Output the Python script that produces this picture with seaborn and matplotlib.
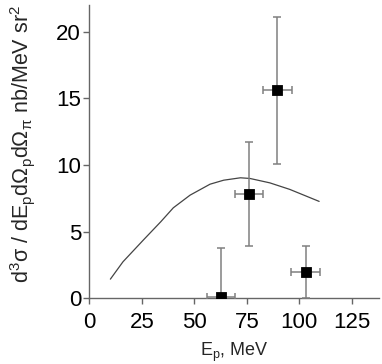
import numpy as np
import pandas as pd
import seaborn as sns
import matplotlib
matplotlib.use("Agg")
import matplotlib.pyplot as plt

# measured points
E_p = [62.9, 76.0, 89.5, 103.0]
xsec = [0.1, 7.8, 15.6, 2.0]
x_err = [6.7, 6.6, 6.9, 6.7]
y_err = [3.65, 3.9, 5.5, 1.95]

# model curve
E_curve = [10, 16, 26, 34, 40, 48, 57.5, 64, 72, 76.5, 86, 95.5, 109.5]
xsec_curve = [1.45, 2.75, 4.43, 5.75, 6.8, 7.75, 8.57, 8.87, 9.05, 9.0, 8.67, 8.18, 7.28]

sns.set_style("ticks")
plt.rcParams['font.family'] = ['Liberation Sans', 'DejaVu Sans']
plt.rcParams['mathtext.fontset'] = 'custom'
plt.rcParams['mathtext.rm'] = 'Liberation Sans'
plt.rcParams['mathtext.it'] = 'Liberation Sans'
plt.rcParams['mathtext.bf'] = 'Liberation Sans'

df = pd.DataFrame({"E": E_p, "s": xsec})
curve = pd.DataFrame({"E": E_curve, "s": xsec_curve})

fig = plt.figure(figsize=(3.82, 3.64), dpi=100)
ax = fig.add_axes([0.234, 0.18, 0.758, 0.806])

sns.lineplot(data=curve, x="E", y="s", ax=ax, color="#444444", lw=0.9)
ax.errorbar(E_p, xsec, xerr=x_err, yerr=y_err, fmt="none", ecolor="#808080",
            elinewidth=1.1, capsize=3, capthick=1.1, zorder=3)
sns.scatterplot(data=df, x="E", y="s", ax=ax, marker="s", s=55, color="black",
                edgecolor="black", zorder=4)

ax.set_xlim(0, 138)
ax.set_ylim(0, 22)
ax.set_xticks([0, 25, 50, 75, 100, 125])
ax.set_yticks([0, 5, 10, 15, 20])
for s in ["left", "bottom"]:
    ax.spines[s].set_color("#666666")
    ax.spines[s].set_linewidth(1.0)
sns.despine(ax=ax)
ax.tick_params(colors="#666666", labelcolor="black", labelsize=16, length=4, width=1)
ax.tick_params(axis="x", pad=6)
ax.tick_params(axis="y", pad=2)

ax.set_xlabel(r"E$_p$, MeV", fontsize=13, labelpad=5)
ax.set_ylabel(r"d$^3\sigma$ / dE$_p$d$\Omega_p$d$\Omega_\pi$ nb/MeV sr$^2$", fontsize=15.5)
ax.yaxis.set_label_coords(-0.18, 0.525)

fig.savefig("out.png", dpi=100)
